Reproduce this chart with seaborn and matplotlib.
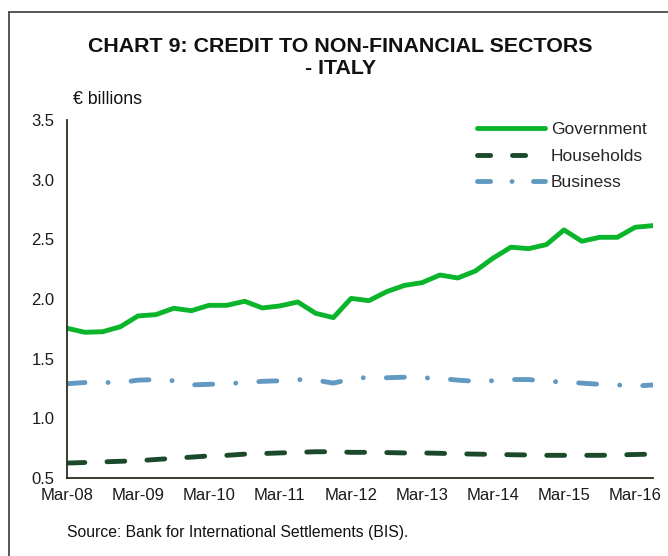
import pandas as pd
import matplotlib
matplotlib.use("Agg")
import matplotlib.pyplot as plt
from matplotlib.lines import Line2D
import seaborn as sns

# Quarterly observations, Mar-08 to Jun-16 (EUR billions)
quarters = pd.date_range("2008-03-01", periods=34, freq="QS-MAR")

government = [1.755, 1.721, 1.726, 1.768, 1.858, 1.869, 1.922, 1.902, 1.947, 1.947,
              1.981, 1.925, 1.942, 1.975, 1.880, 1.844, 2.005, 1.986, 2.062, 2.114,
              2.137, 2.201, 2.176, 2.235, 2.342, 2.434, 2.422, 2.456, 2.579, 2.484,
              2.517, 2.517, 2.601, 2.615]

households = [0.625, 0.630, 0.635, 0.640, 0.645, 0.655, 0.665, 0.675, 0.685, 0.690,
              0.700, 0.705, 0.710, 0.715, 0.720, 0.720, 0.715, 0.715, 0.713, 0.710,
              0.710, 0.707, 0.703, 0.700, 0.698, 0.695, 0.693, 0.690, 0.690, 0.690,
              0.690, 0.693, 0.697, 0.700]

business = [1.290, 1.300, 1.300, 1.300, 1.320, 1.325, 1.315, 1.280, 1.285, 1.290,
            1.300, 1.310, 1.315, 1.325, 1.320, 1.295, 1.330, 1.345, 1.340, 1.345,
            1.340, 1.335, 1.320, 1.310, 1.315, 1.325, 1.325, 1.310, 1.305, 1.295,
            1.285, 1.280, 1.270, 1.280]

sectors = ["Government", "Households", "Business"]
tick_dates = pd.date_range("2008-03-01", "2016-03-01", freq="12MS")
tick_labels = ["Mar-08", "Mar-09", "Mar-10", "Mar-11", "Mar-12",
               "Mar-13", "Mar-14", "Mar-15", "Mar-16"]
y_ticks = [0.5, 1.0, 1.5, 2.0, 2.5, 3.0, 3.5]

df = pd.DataFrame({
    "date": list(quarters) * 3,
    "value": government + households + business,
    "sector": [s for s in sectors for _ in quarters],
})

sns.set_theme(style="white")
plt.rcParams["font.family"] = ["Liberation Sans", "DejaVu Sans"]

palette = {"Government": "#0BB52B", "Households": "#1B4A2B", "Business": "#6199C1"}
# dash patterns in multiples of the line width (round caps add half a width each end)
dash_map = {"Government": "", "Households": (3.67, 4.56),
            "Business": (3.7, 4.75, 0.01, 4.75)}
legend_dashes = {"Government": "", "Households": (2.7, 4.5),
                 "Business": (2.7, 4.4, 0.01, 4.4)}
LW = 3.5

fig = plt.figure(figsize=(6.68, 5.56), dpi=100)
ax = fig.add_axes([67 / 668, 1 - 478 / 556, 586 / 668, 358 / 556])

sns.lineplot(data=df, x="date", y="value", hue="sector", style="sector",
             hue_order=sectors, style_order=sectors, palette=palette,
             dashes=dash_map, linewidth=LW, legend=False, ax=ax,
             dash_capstyle="round", solid_capstyle="round",
             solid_joinstyle="round", dash_joinstyle="round")

ax.set_xlim(quarters[0], quarters[-1])
ax.set_ylim(0.5, 3.5)
ax.set_xticks(tick_dates)
ax.set_xticklabels(tick_labels)
ax.set_yticks(y_ticks)
ax.set_yticklabels([f"{v:.1f}" for v in y_ticks])
ax.set_xlabel("")
ax.set_ylabel("")
ax.tick_params(axis="both", length=0, labelsize=12, colors="#1a1a1a")
ax.tick_params(axis="y", pad=9)
ax.tick_params(axis="x", pad=7)
for side in ["top", "right"]:
    ax.spines[side].set_visible(False)
for side in ["left", "bottom"]:
    ax.spines[side].set_color("#2A2E1E")
    ax.spines[side].set_linewidth(1.3)
ax.grid(False)

handles = [Line2D([], [], color=palette[s], linewidth=LW, dashes=legend_dashes[s],
                  dash_capstyle="round", solid_capstyle="round") for s in sectors]
ax.legend(handles, sectors, loc="upper left", bbox_to_anchor=(477 / 668, 1 - 122 / 556),
          bbox_transform=fig.transFigure, frameon=False, fontsize=12.5,
          handlelength=3.9, handletextpad=0.35, labelspacing=0.66,
          borderpad=0, borderaxespad=0)

fig.text(0.51, 1 - 57 / 556, "CHART 9: CREDIT TO NON-FINANCIAL SECTORS\n- ITALY",
         ha="center", va="center", fontsize=15.4, fontweight="bold",
         linespacing=1.2, color="#111111")
fig.text(73 / 668, 1 - 100 / 556, "€ billions", ha="left", va="center",
         fontsize=12.8, color="#111111")
fig.text(67 / 668, 1 - 533 / 556, "Source: Bank for International Settlements (BIS).",
         ha="left", va="center", fontsize=11.3, color="#111111")

# outer frame of the chart
fig.add_artist(Line2D([9 / 668, 9 / 668], [0, 1 - 12 / 556], transform=fig.transFigure,
                      color="#3a3a3a", linewidth=1.2))
fig.add_artist(Line2D([9 / 668, 1], [1 - 12 / 556, 1 - 12 / 556], transform=fig.transFigure,
                      color="#3a3a3a", linewidth=1.2))

fig.savefig("out.png", dpi=100)
